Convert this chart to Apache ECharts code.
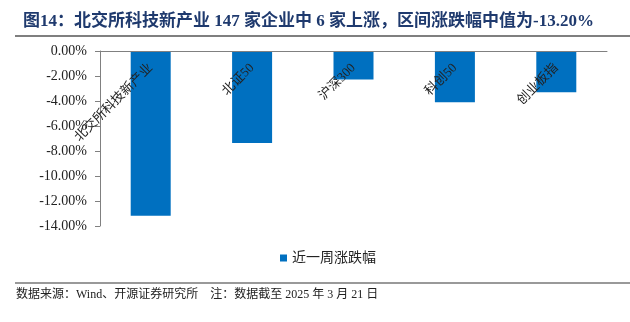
<!DOCTYPE html>
<html><head><meta charset="utf-8">
<script src="https://cdn.jsdelivr.net/npm/echarts@6/dist/echarts.min.js"></script>
<style>html,body{margin:0;padding:0;background:#fff}#c{width:630px;height:322px}</style>
</head><body><div id="c"></div>
<script>
var categories = ['北交所科技新产业', '北证50', '沪深300', '科创50', '创业板指'];
var weeklyChange = [-13.18, -7.36, -2.27, -4.10, -3.30];
var seriesName = '近一周涨跌幅';
var titleText = '图14：北交所科技新产业 147 家企业中 6 家上涨，区间涨跌幅中值为-13.20%';
var footerText = '数据来源：Wind、开源证券研究所    注：数据截至 2025 年 3 月 21 日';

var serif = '"Liberation Serif","Noto Sans CJK SC",serif';
var chart = echarts.init(document.getElementById('c'), null, {renderer: 'canvas'});
chart.setOption({
  animation: false,
  title: {
    text: titleText, left: 18, top: 8,
    textStyle: {fontFamily: serif, fontSize: 17, fontWeight: 'bold', color: '#1F3A6E'}
  },
  graphic: [
    {type: 'line', shape: {x1: 15, y1: 36, x2: 630, y2: 36}, style: {stroke: '#555', lineWidth: 1.5}},
    {type: 'line', shape: {x1: 15, y1: 283, x2: 630, y2: 283}, style: {stroke: '#777', lineWidth: 1.5}},
    {type: 'text', left: 16, top: 289, style: {text: footerText, fontFamily: serif, fontSize: 12, fill: '#222'}}
  ],
  legend: {
    data: [{name: seriesName, icon: 'rect'}], left: 275, top: 246,
    itemWidth: 7, itemHeight: 7, itemGap: 5,
    textStyle: {fontFamily: serif, fontSize: 14, color: '#222'}
  },
  grid: {left: 100, right: 23, top: 51, bottom: 96},
  xAxis: {
    type: 'category', data: categories, position: 'top', z: 10,
    axisLine: {lineStyle: {color: '#808080'}},
    axisTick: {length: 5, lineStyle: {color: '#808080'}},
    axisLabel: {inside: true, rotate: 45, margin: 15, fontFamily: serif, fontSize: 13, color: '#222'}
  },
  yAxis: {
    type: 'value', min: -14, max: 0, interval: 2,
    splitLine: {show: false},
    axisLine: {show: true, lineStyle: {color: '#808080'}},
    axisTick: {show: true, length: 5, lineStyle: {color: '#808080'}},
    axisLabel: {fontFamily: serif, fontSize: 14, color: '#222', margin: 13,
      formatter: function (v) { return v.toFixed(2) + '%'; }}
  },
  series: [{
    name: seriesName, type: 'bar', data: weeklyChange, barWidth: 40, z: 2,
    itemStyle: {color: '#0070C0'}
  }]
});
</script></body></html>
